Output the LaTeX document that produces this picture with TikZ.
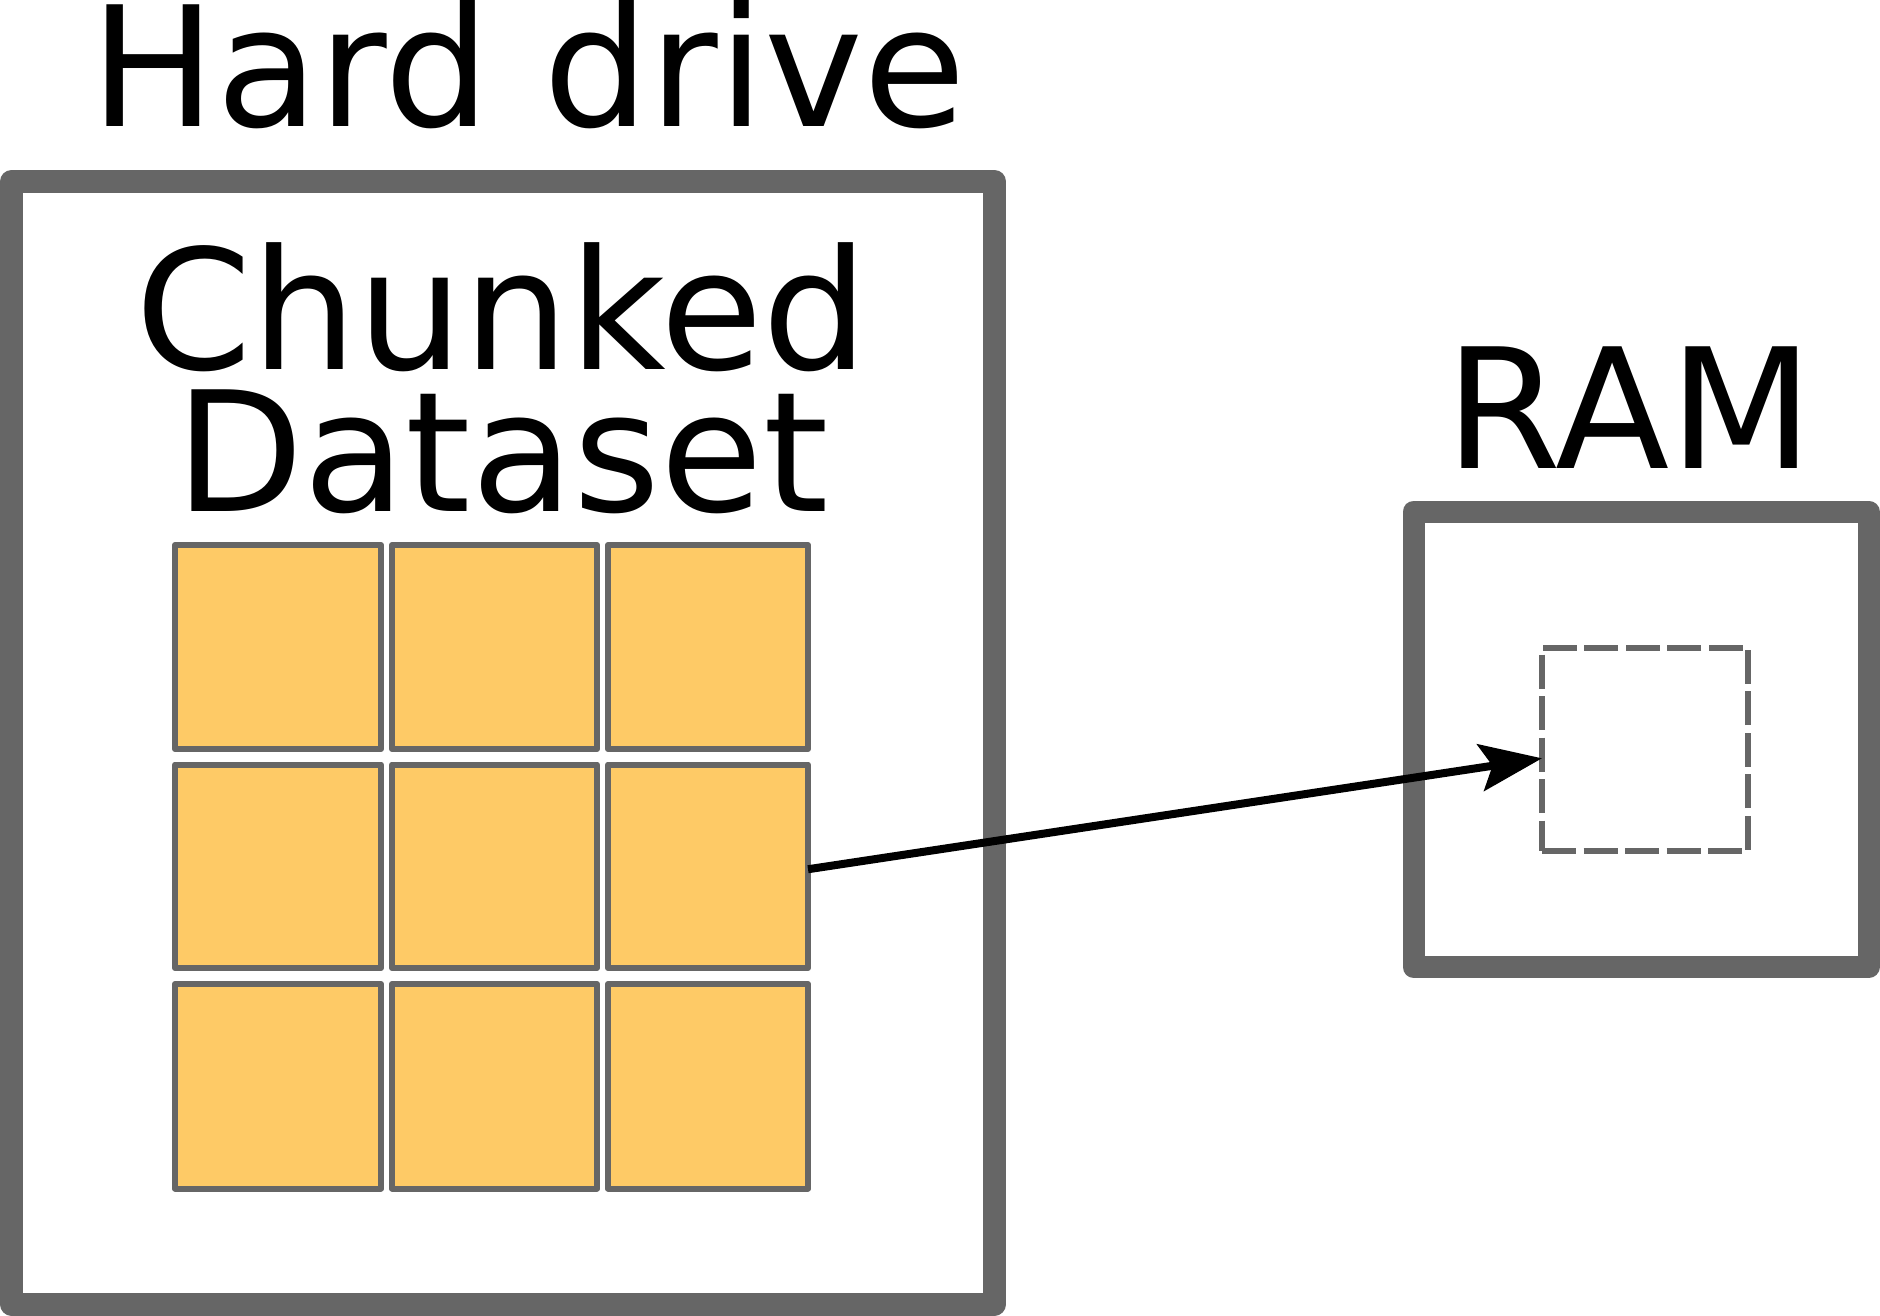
\documentclass[tikz,border=0pt]{standalone}
\usepackage{fontspec}
\setmainfont{DejaVu Sans}
\usetikzlibrary{arrows.meta}
\definecolor{boxgray}{HTML}{666666}
\definecolor{chunkfill}{HTML}{FECA66}
\begin{document}
\begin{tikzpicture}[x=1pt,y=-1pt,
  bigbox/.style={draw=boxgray, line join=round, fill=white, inner sep=0pt, outer sep=0pt},
  chunk/.style={draw=boxgray, fill=chunkfill, line width=6pt, line join=round, inner sep=0pt, outer sep=0pt},
  slot/.style={draw=boxgray, line width=6pt, dash pattern=on 34pt off 7.5pt, inner sep=0pt, outer sep=0pt},
  biglabel/.style={font=\fontsize{167}{142}\selectfont, inner sep=0pt, outer sep=0pt},
  arrowline/.style={draw=black, line width=8pt, -{Stealth[length=62pt, width=47pt, inset=12pt]}}]
\useasboundingbox (0,0) rectangle (1880,1316);

% containers
\node[bigbox, line width=23pt, minimum width=983pt, minimum height=1122.5pt] (hd) at (503,742.75) {};
\node[bigbox, line width=22pt, minimum width=455pt, minimum height=455.5pt] (ram) at (1641,739.25) {};

% titles
\node[biglabel, anchor=base west] (hdlabel) at (90.6,126.7) {Hard drive};
\node[biglabel, anchor=base west] (ramlabel) at (1445.6,468) {RAM};
\node[biglabel, align=center, anchor=north] (chlabel) at (502,242.4) {Chunked\\Dataset};

% chunks
\node[chunk, minimum width=206pt, minimum height=204pt] (c11) at (278,647) {};
\node[chunk, minimum width=205pt, minimum height=204pt] (c12) at (494.5,647) {};
\node[chunk, minimum width=200pt, minimum height=204pt] (c13) at (708,647) {};
\node[chunk, minimum width=206pt, minimum height=203.5pt] (c21) at (278,866.25) {};
\node[chunk, minimum width=205pt, minimum height=203.5pt] (c22) at (494.5,866.25) {};
\node[chunk, minimum width=200pt, minimum height=203.5pt] (c23) at (708,866.25) {};
\node[chunk, minimum width=206pt, minimum height=204.5pt] (c31) at (278,1086.25) {};
\node[chunk, minimum width=205pt, minimum height=204.5pt] (c32) at (494.5,1086.25) {};
\node[chunk, minimum width=200pt, minimum height=204.5pt] (c33) at (708,1086.25) {};

% slot in RAM
\node[slot, minimum width=206pt, minimum height=203.5pt] (slot) at (1645,749.3) {};

% connector
\draw[arrowline] ([yshift=-3pt]c23.east) -- ([yshift=-9pt]slot.west);
\end{tikzpicture}
\end{document}
